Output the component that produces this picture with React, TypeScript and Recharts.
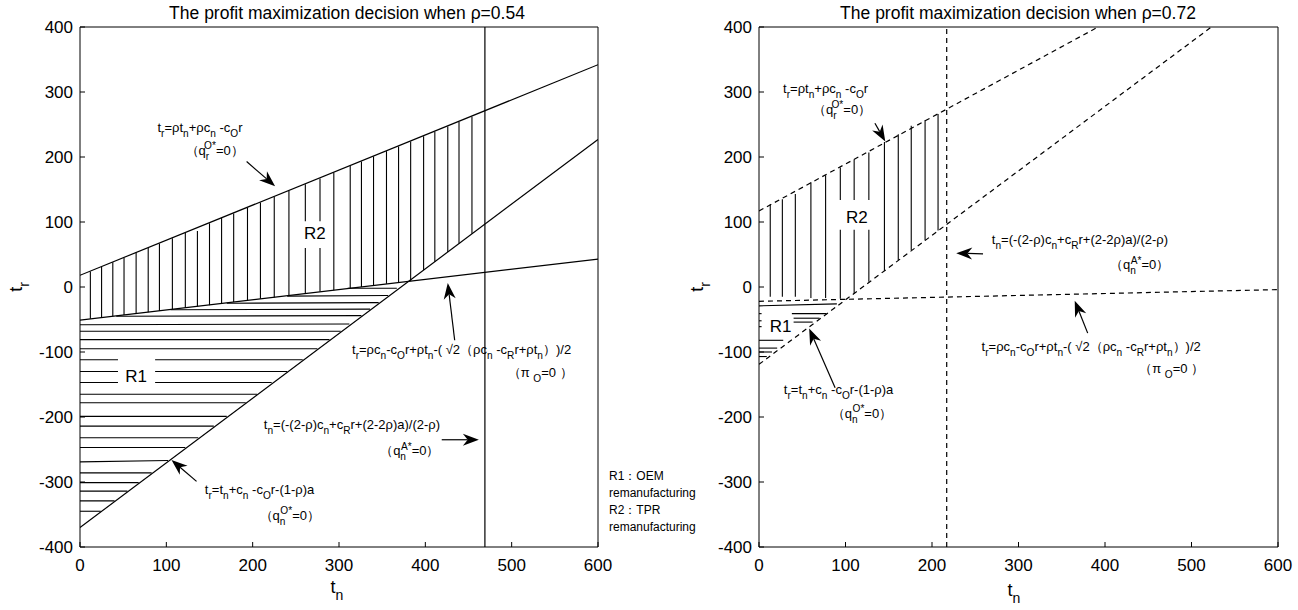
import React from 'react';
import { ComposedChart, Line, XAxis, YAxis, ReferenceLine, ReferenceDot } from 'recharts';

const xTicks = [0, 100, 200, 300, 400, 500, 600];
const yTicks = [-400, -300, -200, -100, 0, 100, 200, 300, 400];

// ---- rho = 0.54 (left panel) ----
const leftQrO = [{ x: 0, y: 18 }, { x: 600, y: 342 }];
const leftQnO = [{ x: 0, y: -370 }, { x: 600, y: 227 }];
const leftPiO = [{ x: 0, y: -51 }, { x: 600, y: 43 }];
const leftQnA = [{ x: 469, y: -400 }, { x: 469, y: 400 }];

// vertical hatch of R2: [tn, top, bottom]
const leftR2Hatch = [
  [12, 24, -49], [25, 31, -47], [38, 38, -45], [51, 45, -43], [65, 53, -41],
  [79, 60, -39], [92, 67, -37], [107, 75, -34], [122, 83, -32], [136, 86, -30],
  [150, 98, -28], [164, 106, -25], [178, 113, -23], [194, 122, -21], [209, 130, -18],
  [225, 139, -16], [242, 148, -13], [261, 158, 101], [261, 60, -10], [278, 167, 101],
  [278, 60, -7], [294, 176, -5], [313, 186, -2], [326, 193, 0], [340, 201, 2],
  [355, 209, 5], [369, 216, 7], [383, 224, 9], [398, 232, 26], [411, 239, 39],
  [426, 247, 54], [439, 254, 67], [454, 262, 82],
];
// horizontal hatch of R1: [tn1, tr1, tn2, tr2]
const leftR1Hatch = [
  [310, -2, 367, -2], [240, -14, 357, -13], [170, -25, 346, -24], [105, -35, 336, -34],
  [42, -45, 326, -44], [0, -58, 312, -57], [0, -68, 302, -68], [0, -81, 289, -81],
  [0, -95, 275, -95], [0, -112, 44, -112], [87, -112, 258, -112], [0, -130, 44, -130],
  [87, -130, 240, -130], [0, -147, 44, -147], [87, -147, 222, -147], [0, -165, 205, -165],
  [0, -178, 192, -178], [0, -199, 170, -199], [0, -214, 155, -214], [0, -232, 137, -232],
  [0, -247, 122, -247], [0, -269, 102, -267], [0, -286, 83, -286], [0, -301, 68, -301],
  [0, -314, 55, -314], [0, -329, 40, -329], [0, -345, 24, -345],
];

const leftNotes = [
  { x: 139, y: 238, text: 't_{r}=ρt_{n}+ρc_{n} -c_{O}r' },
  { x: 156, y: 203, text: '（q_{r}^{O*}=0）' },
  { x: 442, y: -103, text: 't_{r}=ρc_{n}-c_{O}r+ρt_{n}-( √2（ρc_{n} -c_{R}r+ρt_{n}）)/2' },
  { x: 533, y: -138, text: '（π _{O}=0 ）' },
  { x: 315, y: -219, text: 't_{n}=(-(2-ρ)c_{n}+c_{R}r+(2-2ρ)a)/(2-ρ)' },
  { x: 382, y: -259, text: '（q_{n}^{A*}=0）' },
  { x: 208, y: -318, text: 't_{r}=t_{n}+c_{n} -c_{O}r-(1-ρ)a' },
  { x: 243, y: -358, text: '（q_{n}^{O*}=0）' },
];
// arrows: [tailX, tailY, headX, headY]
const leftArrows = [
  [193, 193, 226, 155],
  [434, -82, 426, 6],
  [419, -235, 462, -235],
  [135, -299, 106, -266],
];
const leftRegions = [
  { x: 272, y: 83, text: 'R2' },
  { x: 65, y: -137, text: 'R1' },
];

// ---- rho = 0.72 (right panel) ----
const rightQrO = [{ x: 0, y: 117 }, { x: 392, y: 400 }];
const rightQnO = [{ x: 0, y: -119 }, { x: 523, y: 400 }];
const rightPiO = [{ x: 0, y: -22 }, { x: 600, y: -4 }];
const rightQnA = [{ x: 217, y: -400 }, { x: 217, y: 400 }];

const rightR2Hatch = [
  [13, 127, -15], [27, 135, -15], [42, 143, -15], [60, 161, -17], [77, 172, -17],
  [94, 184, 134], [94, 88, -18], [110, 196, 134], [110, 88, -10], [127, 207, 134],
  [127, 88, 8], [145, 223, 25], [161, 235, 41], [176, 248, 57], [192, 257, 72],
  [207, 266, 87],
];
const rightR1Hatch = [
  [0, -29, 90, -26], [38, -41, 78, -41], [40, -48, 70, -48], [40, -54, 62, -54],
  [0, -41, 3, -41], [0, -52, 3, -52], [0, -61, 3, -61],
  [0, -82, 28, -82], [0, -94, 21, -94], [0, -100, 15, -100], [0, -107, 9, -107],
];

const rightNotes = [
  { x: 77, y: 298, text: 't_{r}=ρt_{n}+ρc_{n} -c_{O}r' },
  { x: 96, y: 266, text: '（q_{r}^{O*}=0）' },
  { x: 371, y: 66, text: 't_{n}=(-(2-ρ)c_{n}+c_{R}r+(2-2ρ)a)/(2-ρ)' },
  { x: 440, y: 27, text: '（q_{n}^{A*}=0）' },
  { x: 384, y: -98, text: 't_{r}=ρc_{n}-c_{O}r+ρt_{n}-( √2（ρc_{n} -c_{R}r+ρt_{n}）)/2' },
  { x: 477, y: -132, text: '（π _{O}=0 ）' },
  { x: 92, y: -165, text: 't_{r}=t_{n}+c_{n} -c_{O}r-(1-ρ)a' },
  { x: 119, y: -202, text: '（q_{n}^{O*}=0）' },
];
const rightArrows = [
  [134, 252, 146, 224],
  [259, 51, 228, 52],
  [380, -71, 365, -21],
  [88, -155, 58, -64],
];
const rightRegions = [
  { x: 113, y: 107, text: 'R2' },
  { x: 25, y: -60, text: 'R1' },
];

const FONT = '"Liberation Sans", Arial, Helvetica, sans-serif';

function Formula({ x, y, src, size = 13, anchor = 'middle' }: any) {
  const tokens = src.split(/(_\{[^}]*\}|\^\{[^}]*\})/).filter((t: string) => t.length > 0);
  let cur = 0;
  let lastSub = '';
  const small = size * 0.78;
  const spans = tokens.map((tk: string, i: number) => {
    let kind = 'b';
    let s = tk;
    if (tk.startsWith('_{')) { kind = 'sub'; s = tk.slice(2, -1); }
    else if (tk.startsWith('^{')) { kind = 'sup'; s = tk.slice(2, -1); }
    const target = kind === 'sub' ? size * 0.38 : kind === 'sup' ? -size * 0.45 : 0;
    const dy = target - cur;
    cur = target;
    const dx = kind === 'sup' && lastSub ? -lastSub.length * small * 0.5 : 0;
    lastSub = kind === 'sub' ? s : '';
    return (
      <tspan key={i} dy={dy} dx={dx} fontSize={kind === 'b' ? size : small}>{s}</tspan>
    );
  });
  return (
    <text x={x} y={y} textAnchor={anchor} fontFamily={FONT} fontSize={size} fill="#000" style={{ whiteSpace: 'pre' }}>
      {spans}
    </text>
  );
}

const ArrowShape = (p: any) => {
  const { x1, y1, x2, y2 } = p;
  const a = Math.atan2(y2 - y1, x2 - x1);
  const c = Math.cos(a);
  const s = Math.sin(a);
  const L = 16;
  const W = 6;
  const bx = x2 - L * c;
  const by = y2 - L * s;
  const nx = x2 - L * 0.7 * c;
  const ny = y2 - L * 0.7 * s;
  const pts = `${x2},${y2} ${bx - W * s},${by + W * c} ${nx},${ny} ${bx + W * s},${by - W * c}`;
  return (
    <g>
      <line x1={x1} y1={y1} x2={nx} y2={ny} stroke="#000" strokeWidth={1.2} />
      <polygon points={pts} fill="#000" />
    </g>
  );
};

function Panel({ lines, dashed, r2, r1, notes, arrows, regions, margin }: any) {
  const dash = dashed ? '5 4' : undefined;
  return (
    <ComposedChart width={650} height={610} margin={margin}>
      <XAxis type="number" dataKey="x" domain={[0, 600]} ticks={xTicks} allowDataOverflow height={40}
        stroke="#000" tickSize={-5} tickMargin={17} tick={{ fill: '#000', fontSize: 17, fontFamily: FONT }} />
      <XAxis xAxisId="top" orientation="top" type="number" dataKey="x" domain={[0, 600]} ticks={xTicks}
        allowDataOverflow height={1} stroke="#000" tickSize={-5} tick={false} />
      <YAxis type="number" domain={[-400, 400]} ticks={yTicks} allowDataOverflow width={50}
        stroke="#000" tickSize={-5} tickMargin={12} tick={{ fill: '#000', fontSize: 17, fontFamily: FONT }} />
      <YAxis yAxisId="right" orientation="right" type="number" domain={[-400, 400]} ticks={yTicks}
        allowDataOverflow width={1} stroke="#000" tickSize={-5} tick={false} />
      {lines.map((d: any, i: number) => (
        <Line key={'l' + i} data={d} dataKey="y" stroke="#000" strokeWidth={1.2} strokeDasharray={dash}
          dot={false} activeDot={false} isAnimationActive={false} />
      ))}
      {r2.map((h: number[], i: number) => (
        <ReferenceLine key={'v' + i} segment={[{ x: h[0], y: h[1] }, { x: h[0], y: h[2] }]} stroke="#000" strokeWidth={1.1} />
      ))}
      {r1.map((h: number[], i: number) => (
        <ReferenceLine key={'h' + i} segment={[{ x: h[0], y: h[1] }, { x: h[2], y: h[3] }]} stroke="#000" strokeWidth={1.1} />
      ))}
      {arrows.map((a: number[], i: number) => (
        <ReferenceLine key={'a' + i} segment={[{ x: a[0], y: a[1] }, { x: a[2], y: a[3] }]} shape={ArrowShape} />
      ))}
      {notes.map((n: any, i: number) => (
        <ReferenceDot key={'n' + i} x={n.x} y={n.y} r={1}
          shape={(p: any) => <Formula x={p.cx} y={p.cy} src={n.text} size={13} />} />
      ))}
      {regions.map((n: any, i: number) => (
        <ReferenceDot key={'r' + i} x={n.x} y={n.y} r={1}
          shape={(p: any) => (
            <text x={p.cx} y={p.cy + 6} textAnchor="middle" fontFamily={FONT} fontSize={17} fill="#000">{n.text}</text>
          )} />
      ))}
    </ComposedChart>
  );
}

function AxisText({ tx, tn }: any) {
  return (
    <g>
      <g transform={`translate(${tx[0]},${tx[1]}) rotate(-90)`}>
        <Formula x={0} y={0} src="t_{r}" size={18} />
      </g>
      <Formula x={tn[0]} y={tn[1]} src="t_{n}" size={18} />
    </g>
  );
}

export default function App() {
  return (
    <div style={{ position: 'absolute', left: 0, top: 0, width: 1298, height: 610, background: '#fff' }}>
      <div style={{ position: 'absolute', left: 0, top: 0 }}>
        <Panel lines={[leftQrO, leftQnO, leftPiO, leftQnA]} dashed={false} r2={leftR2Hatch} r1={leftR1Hatch}
          notes={leftNotes} arrows={leftArrows} regions={leftRegions}
          margin={{ top: 26, right: 51, bottom: 23, left: 30 }} />
      </div>
      <div style={{ position: 'absolute', left: 650, top: 0 }}>
        <Panel lines={[rightQrO, rightQnO, rightPiO, rightQnA]} dashed r2={rightR2Hatch} r1={rightR1Hatch}
          notes={rightNotes} arrows={rightArrows} regions={rightRegions}
          margin={{ top: 26, right: 21, bottom: 23, left: 59 }} />
      </div>
      <svg width={1298} height={610} style={{ position: 'absolute', left: 0, top: 0, pointerEvents: 'none' }}>
        <text x={347} y={19} textAnchor="middle" fontFamily={FONT} fontSize={17.5} fill="#000">
          The profit maximization decision when ρ=0.54
        </text>
        <text x={1018} y={19} textAnchor="middle" fontFamily={FONT} fontSize={17.5} fill="#000">
          The profit maximization decision when ρ=0.72
        </text>
        <AxisText tx={[22, 287]} tn={[337, 593]} />
        <AxisText tx={[703, 287]} tn={[1014, 596]} />
        <g fontFamily={FONT} fontSize={12} fill="#000">
          <text x={609} y={480}>R1：OEM</text>
          <text x={609} y={497}>remanufacturing</text>
          <text x={609} y={514}>R2：TPR</text>
          <text x={609} y={531}>remanufacturing</text>
        </g>
      </svg>
    </div>
  );
}
